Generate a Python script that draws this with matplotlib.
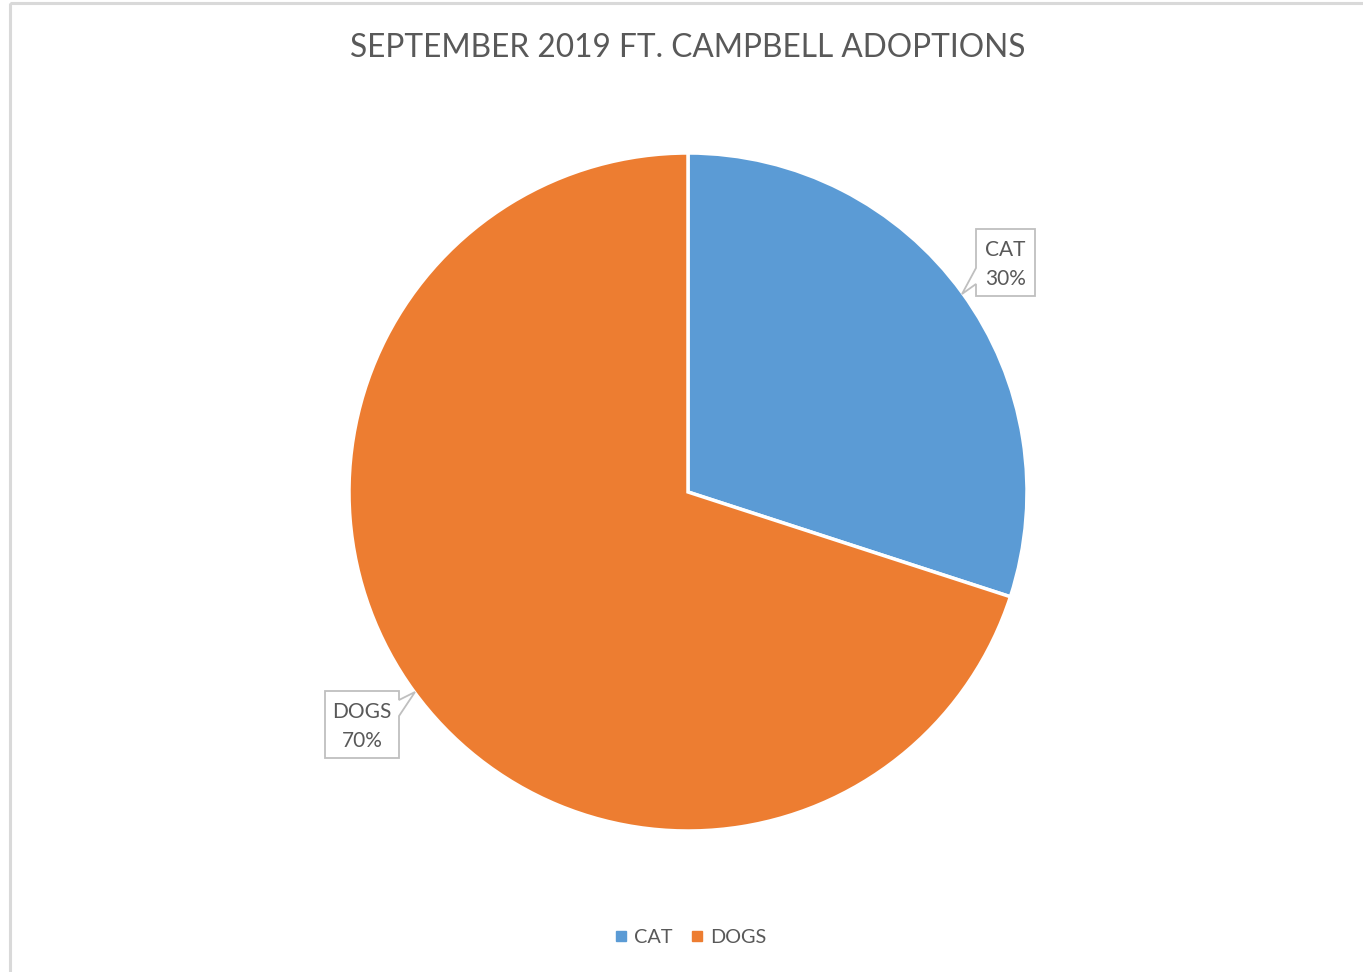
import matplotlib
matplotlib.use("Agg")
import matplotlib.pyplot as plt
from matplotlib.patches import Polygon, Rectangle
from matplotlib.lines import Line2D
from matplotlib.transforms import Affine2D

categories = ["CAT", "DOGS"]
values = [30, 70]
colors = ["#5B9BD5", "#ED7D31"]
title = "SEPTEMBER 2019 FT. CAMPBELL ADOPTIONS"

W, H = 1363, 972
plt.rcParams['font.family'] = ['Lato', 'DejaVu Sans']
fig = plt.figure(figsize=(W / 100, H / 100), dpi=100)
px = Affine2D().scale(1 / W, -1 / H).translate(0, 1) + fig.transFigure
txt = "#595959"

# outer chart border
fig.patches.append(Rectangle((10, 3), 1400, 1000, transform=px, fill=False,
                             edgecolor="#D9D9D9", linewidth=2.2))

cx, cy, r = 688, 492, 339
ax = fig.add_axes([(cx - r) / W, 1 - (cy + r) / H, 2 * r / W, 2 * r / H])
wedges, _ = ax.pie(values, colors=colors, startangle=90, counterclock=False,
                   wedgeprops=dict(edgecolor="white", linewidth=2.5))
ax.set_xlim(-1, 1)
ax.set_ylim(-1, 1)
ax.set_aspect("equal")
ax.axis("off")

fig.text(688 / W, 1 - 48 / H, title, ha="center", va="center",
         fontsize=22.8, color=txt)

# callout labels
callouts = [
    ((976, 229, 1035, 296), [(976, 229), (1035, 229), (1035, 296), (976, 296),
                             (976, 284), (962, 294), (976, 268)]),
    ((325, 691, 399, 758), [(325, 691), (399, 691), (399, 700), (415, 692),
                            (399, 716), (399, 758), (325, 758)]),
]
total = sum(values)
for (box, pts), cat, v in zip(callouts, categories, values):
    fig.patches.append(Polygon(pts, closed=True, transform=px, facecolor="white",
                               edgecolor="#BFBFBF", linewidth=1.3))
    bx = (box[0] + box[2]) / 2
    by = (box[1] + box[3]) / 2 + 2
    fig.text(bx / W, 1 - by / H, f"{cat}\n{round(v / total * 100)}%",
             ha="center", va="center", fontsize=15, color=txt, linespacing=1.55)

handles = [Line2D([], [], marker="s", linestyle="none", markersize=7,
                  markerfacecolor=c, markeredgecolor=c) for c in colors]
fig.legend(handles, categories, loc="center", bbox_to_anchor=(691 / W, 1 - 937 / H),
           ncol=2, frameon=False, fontsize=14.3, labelcolor=txt,
           handlelength=0.5, handletextpad=0.4, columnspacing=1.0)

fig.savefig("out.png", dpi=100, facecolor="white")
